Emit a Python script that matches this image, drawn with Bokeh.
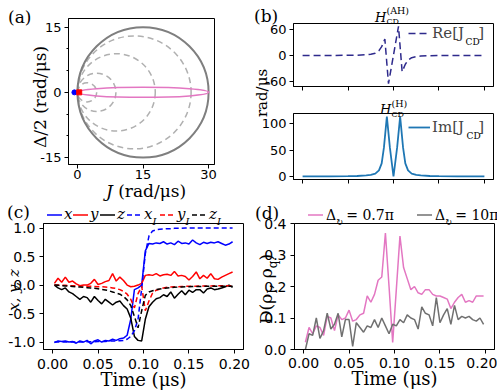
from bokeh.plotting import figure
from bokeh.models import Range1d, FixedTicker, Label, Legend, LegendItem, Div
from bokeh.layouts import row, column
from bokeh.embed import file_html
from bokeh.resources import INLINE

# ---------------- data ----------------
# (a) geometry of the circles (rad/us)
big_circle_center = [15.0]
big_circle_radius = [15.0]
dashed_centers = [2.2, 4.4, 8.9, 13.0]
dashed_radii = [2.2, 4.4, 8.9, 13.0]
ellipse_x = [15.0]
ellipse_y = [0.0]
ellipse_width = [30.0]
ellipse_height = [2.3]
blue_pt_x, blue_pt_y = [-0.7], [0.0]
red_pt_x, red_pt_y = [0.4], [0.0]
a_xticks = [0, 15, 30]
a_yticks = [-15, 0, 15]
a_ylabels = ["-15", "0", "15"]
a_yminor = [-10, -5, 5, 10]

# (b) couplings vs time (us)
t_re = [0.0, 0.03, 0.05, 0.06, 0.07, 0.075, 0.08, 0.084, 0.087, 0.089, 0.0905,
        0.0945, 0.1055, 0.1095, 0.111, 0.113, 0.116, 0.12, 0.125, 0.13, 0.14,
        0.15, 0.17, 0.2]
re_j = [0.0, 0.0, 0.3, 0.6, 1.5, 2.8, 5.0, 11.0, 20.0, 30.0, 37.0,
        -64.0, 66.0, -37.0, -30.0, -20.0, -11.0, -5.0, -2.8, -1.5, -0.6,
        -0.3, 0.0, 0.0]
t_im = [0.0, 0.03, 0.05, 0.06, 0.07, 0.075, 0.08, 0.084, 0.087, 0.0895, 0.0927,
        0.096, 0.1, 0.104, 0.1073, 0.1105, 0.113, 0.116, 0.12, 0.125, 0.13,
        0.14, 0.15, 0.17, 0.2]
im_j = [0.6, 0.8, 1.1, 1.5, 2.5, 3.5, 6.0, 12.0, 25.0, 55.0, 113.0,
        55.0, 0.5, 55.0, 113.0, 55.0, 25.0, 12.0, 6.0, 3.5, 2.5,
        1.5, 1.1, 0.8, 0.6]
b_top_ticks = [-60, 0, 60]
b_top_labels = ["-60", "0", "60"]
b_bot_ticks = [0, 50, 100]

# (c), (d) time grid (us)
t = [0.002, 0.006, 0.010, 0.014, 0.018, 0.022, 0.026, 0.030, 0.034, 0.038,
     0.042, 0.046, 0.050, 0.054, 0.058, 0.062, 0.066, 0.070, 0.074, 0.078,
     0.082, 0.086, 0.090, 0.094, 0.098, 0.102, 0.106, 0.110, 0.114, 0.118,
     0.122, 0.126, 0.130, 0.134, 0.138, 0.142, 0.146, 0.150, 0.154, 0.158,
     0.162, 0.166, 0.170, 0.174, 0.178, 0.182, 0.186, 0.190, 0.194, 0.198]

x_meas = [-1.01, -0.98, -0.99, -0.98, -1.0, -0.99, -1.02, -0.98, -1.0, -0.97,
          -1.03, -0.98, -0.96, -1.0, -0.97, -0.98, -0.95, -0.97, -0.94, -0.93,
          -0.88, -0.6, -0.08, -0.05, 0.0, 0.6, 0.73, 0.72, 0.74, 0.73,
          0.76, 0.72, 0.74, 0.71, 0.77, 0.73, 0.74, 0.72, 0.79, 0.74,
          0.71, 0.75, 0.73, 0.75, 0.74, 0.76, 0.73, 0.70, 0.72, 0.76]
y_meas = [0.03, 0.12, 0.05, 0.14, 0.05, 0.07, 0.02, -0.01, 0.0, 0.0,
          0.03, 0.10, 0.01, 0.03, 0.06, 0.08, 0.20, 0.07, 0.14, 0.08,
          0.0, -0.03, -0.02, 0.0, 0.03, 0.17, 0.18, 0.17, 0.20, 0.16,
          0.18, 0.19, 0.17, 0.24, 0.16, 0.17, 0.15, 0.09, 0.15, 0.23,
          0.11, 0.17, 0.12, 0.20, 0.11, 0.10, 0.14, 0.17, 0.20, 0.23]
z_meas = [0.0, -0.05, -0.08, -0.05, -0.12, -0.15, -0.20, -0.25, -0.20, -0.22,
          -0.30, -0.20, -0.27, -0.33, -0.25, -0.30, -0.35, -0.30, -0.28, -0.36,
          -0.42, -0.58, -0.90, -0.97, -0.98, -0.60, -0.38, -0.30, -0.24, -0.22,
          -0.17, -0.20, -0.12, -0.23, -0.16, -0.10, -0.17, -0.09, -0.13, -0.08,
          -0.08, -0.14, -0.07, -0.05, -0.08, -0.07, -0.05, -0.03, 0.0, -0.04]
x_ideal = [-1.0, -1.0, -1.0, -1.0, -1.0, -1.0, -1.0, -1.0, -1.0, -0.995,
           -0.995, -0.995, -0.99, -0.99, -0.99, -0.985, -0.98, -0.98, -0.975, -0.97,
           -0.95, -0.9, -0.8, -0.6, -0.06, 0.55, 0.86, 0.95, 0.97, 0.98,
           0.985, 0.99, 0.99, 0.995, 0.995, 0.995, 1.0, 1.0, 1.0, 1.0,
           1.0, 1.0, 1.0, 1.0, 1.0, 1.0, 1.0, 1.0, 1.0, 1.0]
y_ideal = [0.0, 0.0, -0.005, -0.005, -0.01, -0.01, -0.01, -0.015, -0.015, -0.02,
           -0.02, -0.025, -0.03, -0.03, -0.035, -0.04, -0.05, -0.06, -0.08, -0.11,
           -0.16, -0.25, -0.40, -0.15, -0.02, -0.45, -0.28, -0.14, -0.09, -0.07,
           -0.05, -0.04, -0.035, -0.03, -0.03, -0.025, -0.02, -0.02, -0.02, -0.02,
           -0.015, -0.015, -0.015, -0.015, -0.01, -0.01, -0.01, -0.01, -0.01, -0.01]
z_ideal = [0.0, -0.005, -0.01, -0.015, -0.02, -0.025, -0.03, -0.035, -0.04, -0.045,
           -0.05, -0.055, -0.065, -0.075, -0.085, -0.10, -0.12, -0.14, -0.16, -0.20,
           -0.26, -0.36, -0.55, -0.75, -0.45, -0.18, -0.12, -0.10, -0.08, -0.07,
           -0.06, -0.05, -0.045, -0.04, -0.035, -0.035, -0.03, -0.03, -0.025, -0.025,
           -0.025, -0.02, -0.02, -0.02, -0.02, -0.02, -0.02, -0.02, -0.02, -0.02]

d_07pi = [0.023, 0.07, 0.05, 0.075, 0.07, 0.045, 0.105, 0.10, 0.06, 0.11,
          0.095, 0.10, 0.125, 0.09, 0.095, 0.11, 0.115, 0.17, 0.15, 0.175,
          0.22, 0.23, 0.37, 0.20, 0.022, 0.19, 0.36, 0.26, 0.225, 0.19,
          0.20, 0.18, 0.175, 0.19, 0.19, 0.175, 0.17, 0.17, 0.165, 0.16,
          0.13, 0.15, 0.165, 0.175, 0.15, 0.155, 0.15, 0.17, 0.17, 0.17]
d_10pi = [0.0, 0.05, 0.045, 0.10, 0.035, 0.06, 0.115, 0.065, 0.08, 0.115,
          0.04, 0.095, 0.095, 0.01, 0.085, 0.07, 0.055, 0.075, 0.07, 0.095,
          0.07, 0.10, 0.075, 0.05, 0.08, 0.075, 0.095, 0.085, 0.11, 0.10,
          0.095, 0.065, 0.135, 0.115, 0.11, 0.075, 0.165, 0.085, 0.11, 0.13,
          0.08, 0.14, 0.095, 0.105, 0.10, 0.105, 0.095, 0.09, 0.10, 0.08]

time_ticks = [0.0, 0.05, 0.10, 0.15, 0.20]
time_labels = ["0.00", "0.05", "0.10", "0.15", "0.20"]
c_yticks = [-1.0, -0.5, 0.0, 0.5, 1.0]
c_ylabels = ["-1.0", "-0.5", "0.0", "0.5", "1.0"]
d_yticks = [0.0, 0.1, 0.2, 0.3, 0.4]
d_ylabels = ["0.0", "0.1", "0.2", "0.3", "0.4"]

# legend entries
c_legend_names = ["x", "y", "z", "x", "y", "z"]
c_legend_sub = ["", "", "", "I", "I", "I"]
c_legend_colors = ["blue", "red", "black", "blue", "red", "black"]
c_legend_dashed = [False, False, False, True, True, True]
d_legend_values = ["0.7π", "10π"]

# ---------------- style ----------------
SERIF = "DejaVu Serif"
SANS = "DejaVu Sans"
PINK = "#e377c2"
GRAY = "#707070"
INDIGO = "#2e2a8c"
TABBLUE = "#1f77b4"


def make_fig(w, h, L, R, T, B, xr, yr, tick_size="13px"):
    p = figure(width=w, height=h, min_border_left=L, min_border_right=R,
               min_border_top=T, min_border_bottom=B,
               x_range=Range1d(*xr), y_range=Range1d(*yr),
               output_backend="svg", toolbar_location=None)
    p.grid.visible = False
    p.outline_line_color = "black"
    p.outline_line_alpha = 1.0
    p.outline_line_width = 1
    p.background_fill_color = "white"
    p.border_fill_color = "white"
    for ax in (p.xaxis[0], p.yaxis[0]):
        ax.major_tick_out = 4
        ax.major_tick_in = 0
        ax.minor_tick_out = 0
        ax.minor_tick_in = 0
        ax.axis_line_color = "black"
        ax.major_tick_line_color = "black"
        ax.major_label_text_font = SANS
        ax.major_label_text_font_size = tick_size
        ax.major_label_text_color = "black"
        ax.major_label_standoff = 3
        ax.axis_label_text_font = SERIF
        ax.axis_label_text_font_style = "normal"
        ax.axis_label_text_color = "black"
    p.tags = [dict(L=L, T=T, FH=h - T - B)]
    return p


def set_ticks(ax, ticks, labels=None, minor=None):
    ax.ticker = FixedTicker(ticks=ticks, minor_ticks=minor or [])
    if labels is None:
        labels = [str(v) for v in ticks]
    ax.major_label_overrides = {v: s for v, s in zip(ticks, labels)}


def ftxt(p, ox, oy, text, gx, gy, size, style="normal"):
    g = p.tags[0]
    p.add_layout(Label(x=gx - ox - g["L"], y=(g["T"] + g["FH"]) - (gy - oy),
                       x_units="screen", y_units="screen", text=text, text_font=SERIF,
                       text_font_size=size, text_font_style=style,
                       text_baseline="alphabetic", text_color="black"))


def legend_one(p, renderer, label, vx, vy, gw, size):
    p.add_layout(Legend(items=[LegendItem(label=label, renderers=[renderer])],
                        location=(vx, vy), glyph_width=gw, glyph_height=18,
                        label_height=18, label_width=0, label_standoff=2, padding=0,
                        margin=0, border_line_color=None, background_fill_alpha=0,
                        label_text_font=SERIF, label_text_font_size=size))


# ---------------- (a) ----------------
pa = make_fig(250, 200, 68, 36, 18, 36, (-2.05, 31.35), (-16.6, 17.0))
set_ticks(pa.xaxis[0], a_xticks)
set_ticks(pa.yaxis[0], a_yticks, a_ylabels, minor=a_yminor)
pa.yaxis.minor_tick_out = 2
pa.xaxis.major_label_standoff = 1
pa.ellipse(x=dashed_centers, y=[0.0] * len(dashed_centers),
           width=[2 * r for r in dashed_radii], height=[2 * r for r in dashed_radii],
           fill_alpha=0, line_color="#b0b0b0", line_width=1.5, line_dash="6 4")
pa.ellipse(x=big_circle_center, y=[0.0], width=[2 * r for r in big_circle_radius],
           height=[2 * r for r in big_circle_radius], fill_alpha=0,
           line_color="#7f7f7f", line_width=2)
pa.ellipse(x=ellipse_x, y=ellipse_y, width=ellipse_width, height=ellipse_height,
           fill_alpha=0, line_color=PINK, line_width=1.5)
pa.scatter(blue_pt_x, blue_pt_y, marker="circle", size=5, color="blue")
pa.scatter(red_pt_x, red_pt_y, marker="square", size=5, color="red")

# ---------------- (b) ----------------
pbt = make_fig(247, 93, 43, 4, 23, 7, (-0.01, 0.21), (-70.5, 72.5))
set_ticks(pbt.xaxis[0], time_ticks, ["", "", "", "", ""])
pbt.xaxis.major_label_standoff = 0
set_ticks(pbt.yaxis[0], b_top_ticks, b_top_labels)
r_re = pbt.line(t_re, re_j, line_color=INDIGO, line_width=1.5, line_dash="7 4")
legend_one(pbt, r_re, "Re[J   ]", 408 - 250 - 43, 86 - 32.7 - 9, 22, "15px")
ftxt(pbt, 250, 0, "CD", 465, 41, "9px")

pbb = make_fig(247, 107, 43, 4, 20, 21, (-0.01, 0.21), (-5.1, 118.6))
set_ticks(pbb.xaxis[0], time_ticks, ["", "", "", "", ""])
pbb.xaxis.major_label_standoff = 0
set_ticks(pbb.yaxis[0], b_bot_ticks)
r_im = pbb.line(t_im, im_j, line_color=TABBLUE, line_width=1.8)
legend_one(pbb, r_im, "Im[J   ]", 408 - 250 - 43, (20 + 66) - (126.7 - 93) - 9, 22, "15px")
ftxt(pbb, 250, 93, "CD", 466, 135, "9px")

# ---------------- (c) ----------------
pc = make_fig(250, 192, 43, 7, 23, 42, (-0.01, 0.21), (-1.13, 1.08), tick_size="14px")
set_ticks(pc.xaxis[0], time_ticks, time_labels)
set_ticks(pc.yaxis[0], c_yticks, c_ylabels)
pc.yaxis.major_label_standoff = 4
pc.xaxis.major_label_standoff = 5
pc.xaxis.axis_label = "Time (μs)"
pc.xaxis.axis_label_text_font_size = "18px"
pc.xaxis.axis_label_standoff = -3
pc.line(t, x_meas, line_color="blue", line_width=1.5)
pc.line(t, y_meas, line_color="red", line_width=1.5)
pc.line(t, z_meas, line_color="black", line_width=1.5)
pc.line(t, x_ideal, line_color="blue", line_width=1.5, line_dash="5 3")
pc.line(t, y_ideal, line_color="red", line_width=1.5, line_dash="5 3")
pc.line(t, z_ideal, line_color="black", line_width=1.5, line_dash="5 3")

# ---------------- (d) ----------------
pd_ = make_fig(247, 192, 44, 3, 20, 41, (-0.01, 0.21), (0.0, 0.4), tick_size="14px")
set_ticks(pd_.xaxis[0], time_ticks, time_labels)
set_ticks(pd_.yaxis[0], d_yticks, d_ylabels)
pd_.yaxis.major_label_standoff = 4
pd_.xaxis.major_label_standoff = 4
pd_.xaxis.axis_label = "Time (μs)"
pd_.xaxis.axis_label_text_font_size = "18px"
pd_.xaxis.axis_label_standoff = -3
pd_.line(t, d_07pi, line_color=PINK, line_width=1.5)
pd_.line(t, d_10pi, line_color=GRAY, line_width=1.5)

# ---------------- overlay texts (page pixel coordinates) ----------------
svg = []


def fstyle(size, style="normal", family=SERIF):
    return f"font-family:'{family}';font-size:{size}px;font-style:{style};font-weight:normal"


def T(x, y, content, size, style="normal", anchor="start", rotate=False,
      family=SERIF):
    st = fstyle(size, style, family)
    if rotate:
        svg.append(
            f'<text transform="translate({x},{y}) rotate(-90)" text-anchor="middle" '
            f'dominant-baseline="central" style="{st}" fill="black">{content}</text>')
    else:
        svg.append(
            f'<text x="{x}" y="{y}" text-anchor="{anchor}" style="{st}" '
            f'fill="black">{content}</text>')


def Lseg(x0, x1, y, color, dashed):
    dash = ' stroke-dasharray="5 3"' if dashed else ""
    svg.append(f'<line x1="{x0}" y1="{y}" x2="{x1}" y2="{y}" stroke="{color}" '
               f'stroke-width="1.5"{dash}/>')


def sub(s, size, style="normal"):
    return (f'<tspan baseline-shift="sub" style="font-size:{size}px;'
            f'font-style:{style}">{s}</tspan>')


def title_h(x, y, sup):
    # italic H with stacked subscript CD and superscript (..)
    return (f'<text x="{x}" y="{y}" style="{fstyle(13, "italic")}" fill="black">H'
            f'<tspan x="{x + 11.5}" y="{y + 2.6}" style="font-size:8px;font-style:normal">CD</tspan>'
            f'<tspan x="{x + 11.5}" y="{y - 7.8}" style="font-size:9.5px;font-style:normal">{sup}</tspan>'
            f'</text>')


# panel letters
T(3, 17.5, "(a)", 17)
T(249, 16.5, "(b)", 17)
T(2, 212.5, "(c)", 17)
T(250, 213.5, "(d)", 17)

# axis labels
T(35, 92, "Δ/2 (rad/μs)", 17, rotate=True)
T(141, 192, '<tspan style="font-style:italic">J</tspan> (rad/μs)', 17, anchor="middle")
T(257, 88, "rad/μs", 15, rotate=True)
T(9, 285, "x, y, z", 15, style="italic", rotate=True)
T(261, 284, "D(ρ" + sub("I", 12) + ", ρ" + sub("q", 12) + ")", 17, rotate=True)

# (b) titles
svg.append(title_h(370.0, 16.7, "(AH)"))
svg.append(title_h(375.0, 109.3, "(H)"))

# (c) legend
c_glyph_x = [42, 68, 95, 122, 155, 187]
for gx, name, sb, col, dsh in zip(c_glyph_x, c_legend_names, c_legend_sub,
                                   c_legend_colors, c_legend_dashed):
    Lseg(gx, gx + 15, 210, col, dsh)
    if sb:
        T(gx + 17, 214, name + sub(sb, 10, "italic"), 15, style="italic")
    else:
        T(gx + 17, 214, name, 15, style="italic")

# (d) legend
for gx, col, val in zip([303, 412], [PINK, GRAY], d_legend_values):
    Lseg(gx, gx + 15, 210, col, False)
    T(gx + 18, 215,
      'Δ<tspan baseline-shift="sub" style="font-family:\'DejaVu Sans\';font-size:8.5px">↻</tspan>'
      '<tspan dx="3">= ' + val + '</tspan>', 14)

overlay_html = ('<svg xmlns="http://www.w3.org/2000/svg" width="497" height="392" '
                'style="position:absolute;left:0;top:0;overflow:visible">'
                + "".join(svg) + "</svg>")
overlay = Div(text=overlay_html, width=497, height=392,
              styles={"position": "absolute", "left": "0px", "top": "0px",
                      "pointer-events": "none", "z-index": "10"})

# ---------------- layout ----------------
root = column(row(pa, column(pbt, pbb, spacing=0), spacing=0),
              row(pc, pd_, spacing=0), overlay, spacing=0,
              styles={"position": "absolute", "left": "0px", "top": "0px"})

with open("out.html", "w") as f:
    f.write(file_html(root, INLINE))
